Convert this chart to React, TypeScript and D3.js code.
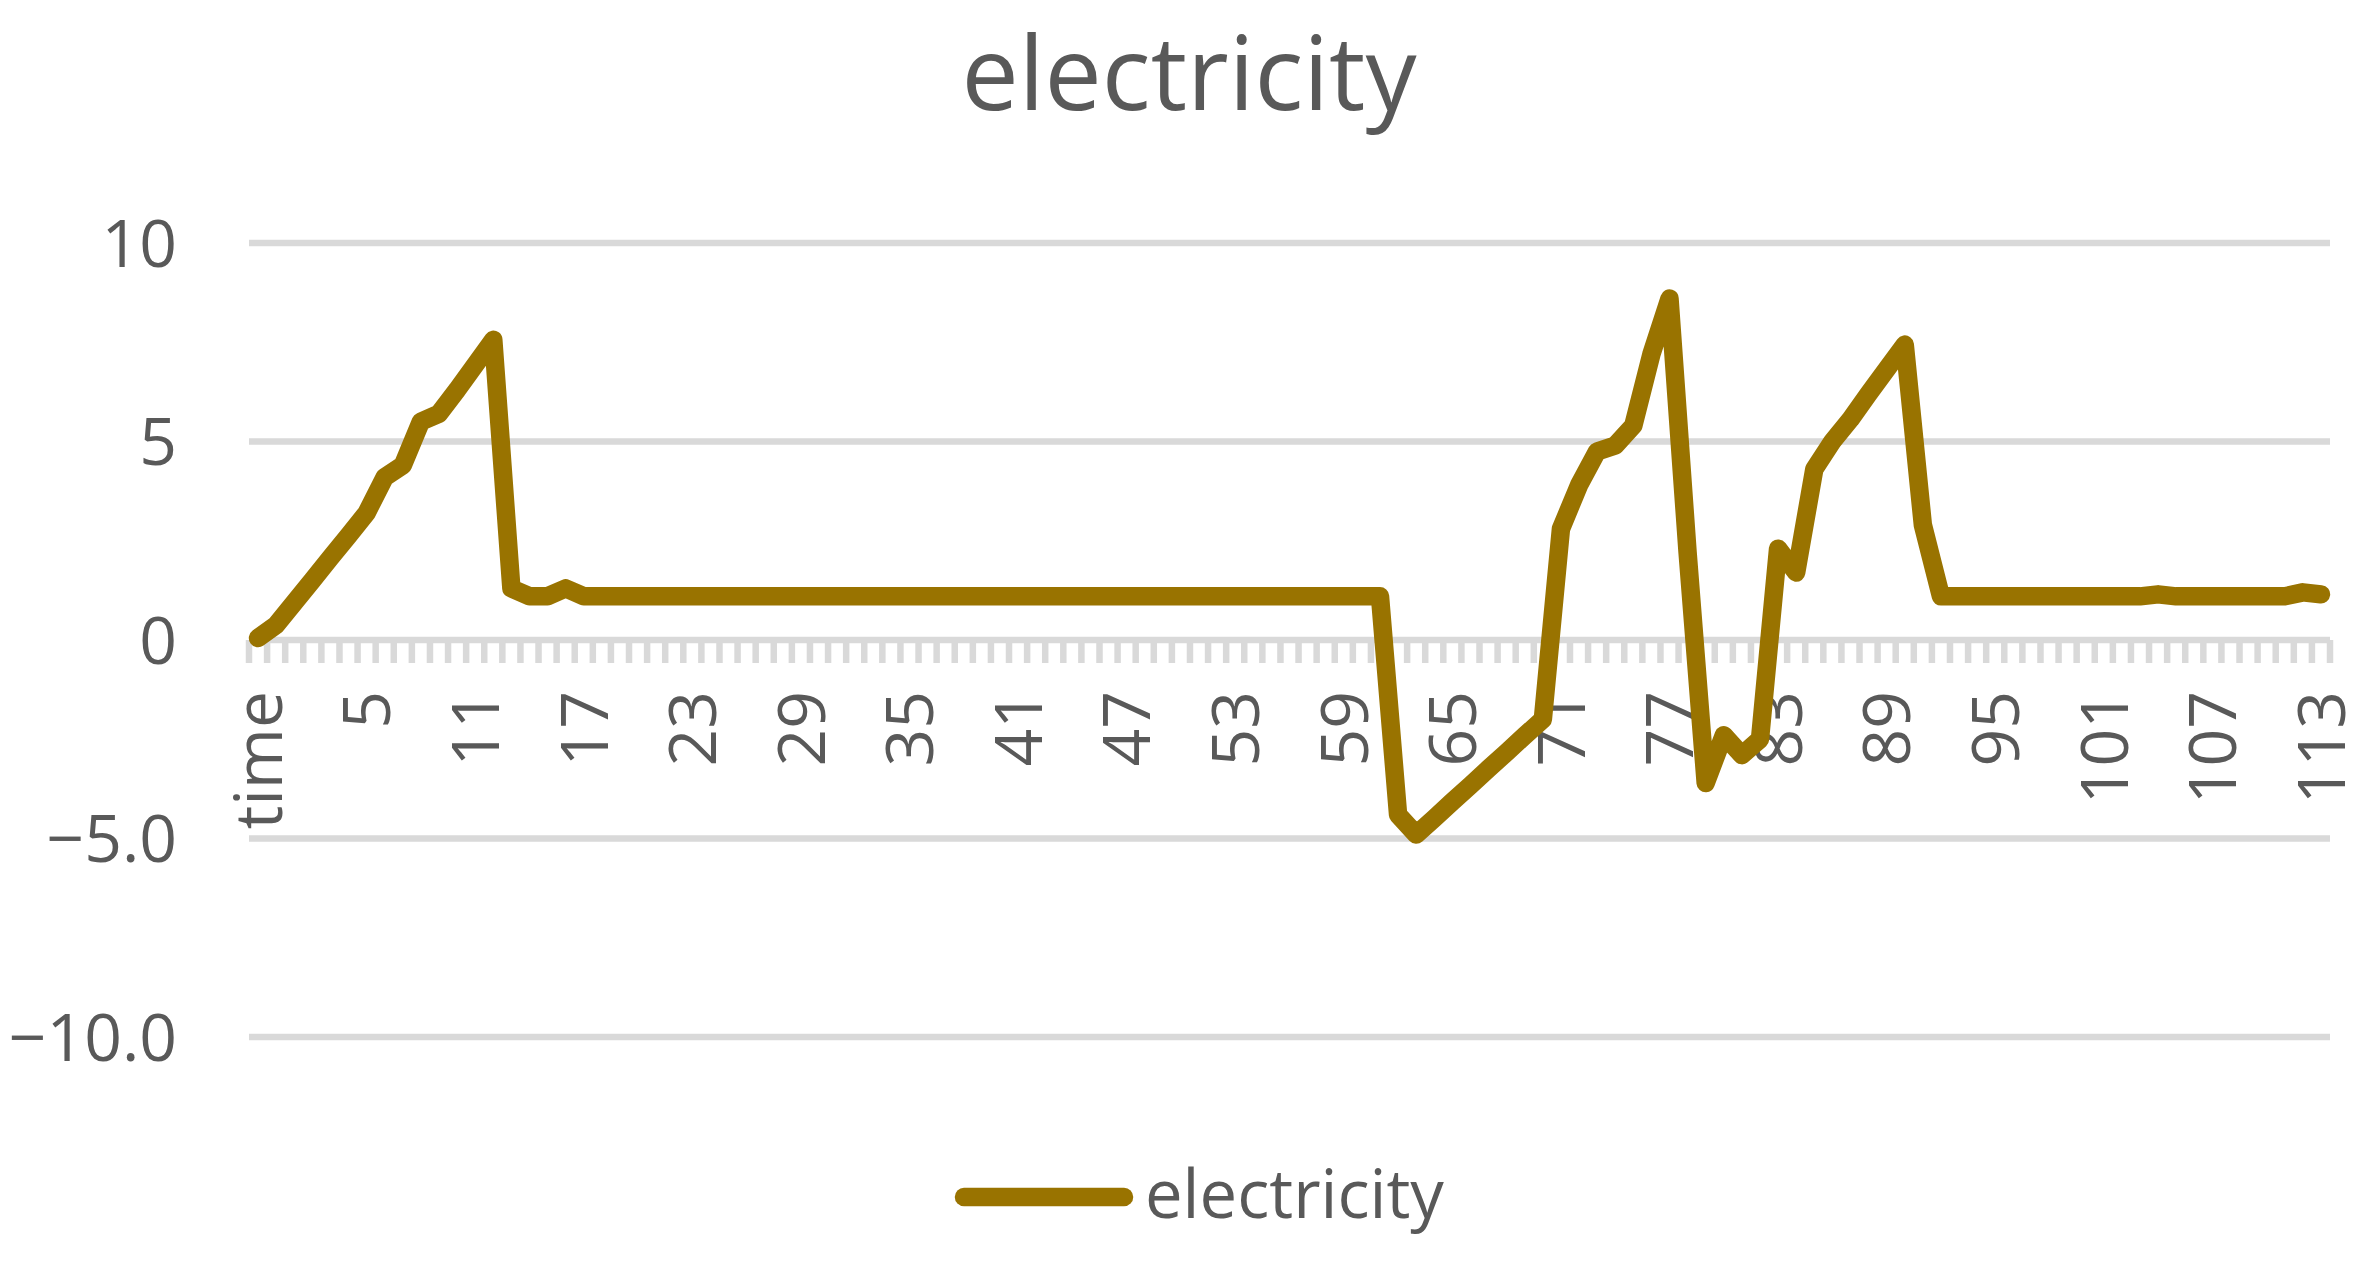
import React from "react";
import * as d3 from "d3";

// category labels: header row "time" then 0..113
const categories: string[] = ["time", ...d3.range(0, 114).map(String)];

// electricity values
const electricity: number[] = [
  0.05, 0.38, 0.94, 1.5, 2.07, 2.63, 3.2, 4.1, 4.4, 5.5,
  5.7, 6.3, 6.93, 7.56, 1.3, 1.1, 1.1, 1.3, 1.1, 1.1,
  1.1, 1.1, 1.1, 1.1, 1.1, 1.1, 1.1, 1.1, 1.1, 1.1,
  1.1, 1.1, 1.1, 1.1, 1.1, 1.1, 1.1, 1.1, 1.1, 1.1,
  1.1, 1.1, 1.1, 1.1, 1.1, 1.1, 1.1, 1.1, 1.1, 1.1,
  1.1, 1.1, 1.1, 1.1, 1.1, 1.1, 1.1, 1.1, 1.1, 1.1,
  1.1, 1.1, 1.1, -4.4, -4.9, -4.49, -4.07, -3.66, -3.24, -2.83,
  -2.41, -2.0, 2.8, 3.9, 4.75, 4.9, 5.4, 7.2, 8.6, 2.2,
  -3.6, -2.4, -2.9, -2.5, 2.3, 1.7, 4.3, 5.0, 5.56, 6.2,
  6.82, 7.44, 2.9, 1.1, 1.1, 1.1, 1.1, 1.1, 1.1, 1.1,
  1.1, 1.1, 1.1, 1.1, 1.1, 1.15, 1.1, 1.1, 1.1, 1.1,
  1.1, 1.1, 1.1, 1.2, 1.15,
];

const yTicks: number[] = [10, 5, 0, -5, -10];
const yTickLabels: string[] = ["10", "5", "0", "\u22125.0", "\u221210.0"];

const W = 2372;
const H = 1261;
const FONT = "'Open Sans', Calibri, sans-serif";
const TEXT = "#595959";
const GRID = "#d9d9d9";
const LINE = "#997300";

const App = () => {
  // scales
  const x = d3.scaleBand<string>().domain(categories).range([249, 2330]).padding(0);
  const y = d3.scaleLinear().domain([-10, 10]).range([1037, 243]);
  const cx = (c: string) => (x(c) as number) + x.bandwidth() / 2;

  const line = d3
    .line<number>()
    .x((_, i) => cx(categories[i]))
    .y((d) => y(d));

  // tick marks at each category boundary
  const boundaries = [...categories.map((c) => x(c) as number), x.range()[1]];
  const labelled = categories.filter((_, i) => i % 6 === 0);

  return (
    <svg
      width={W}
      height={H}
      style={{ position: "absolute", left: 0, top: 0, background: "#fff" }}
      fontFamily={FONT}
    >
      <text x={1189} y={110} textAnchor="middle" fontSize={102} fill={TEXT}>
        electricity
      </text>

      {/* gridlines */}
      {yTicks.map((t) => (
        <line
          key={t}
          x1={x.range()[0]}
          x2={x.range()[1]}
          y1={y(t)}
          y2={y(t)}
          stroke={GRID}
          strokeWidth={6.5}
        />
      ))}
      {yTicks.map((t, i) => (
        <text key={t} x={177} y={y(t)} dy="0.36em" textAnchor="end" fontSize={66} fill={TEXT}>
          {yTickLabels[i]}
        </text>
      ))}

      {/* category tick marks under the zero line */}
      {boundaries.map((b, i) => (
        <line key={i} x1={b} x2={b} y1={y(0)} y2={y(0) + 23} stroke={GRID} strokeWidth={6.5} />
      ))}

      {labelled.map((c) => (
        <text
          key={c}
          transform={`translate(${cx(c)},691) rotate(-90)`}
          dy="0.36em"
          textAnchor="end"
          fontSize={66}
          fill={TEXT}
        >
          {c}
        </text>
      ))}

      <path
        d={line(electricity) || ""}
        fill="none"
        stroke={LINE}
        strokeWidth={18.5}
        strokeLinejoin="round"
        strokeLinecap="round"
      />

      {/* legend */}
      <line x1={964} x2={1124} y1={1197} y2={1197} stroke={LINE} strokeWidth={18.5} strokeLinecap="round" />
      <text x={1145} y={1218} fontSize={67} fill={TEXT}>
        electricity
      </text>
    </svg>
  );
};

export default App;
